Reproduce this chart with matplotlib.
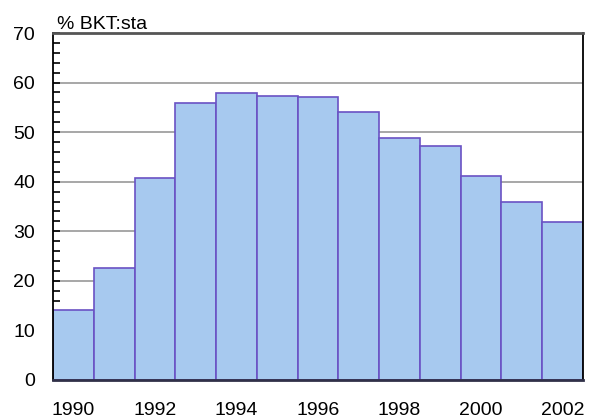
import numpy as np
import matplotlib.pyplot as plt
from matplotlib.ticker import MultipleLocator

plt.rcParams['font.family'] = ['Liberation Sans', 'DejaVu Sans']

years = ['1990', '1991', '1992', '1993', '1994', '1995', '1996',
         '1997', '1998', '1999', '2000', '2001', '2002']
values = [14.2, 22.5, 40.7, 55.9, 57.9, 57.2, 57.0,
          54.1, 48.9, 47.2, 41.1, 35.9, 31.9]
shown_labels = ['1990', '1992', '1994', '1996', '1998', '2000', '2002']

fig = plt.figure(figsize=(5.97, 4.19), dpi=100)
ax = fig.add_axes([0.0888, 0.0931, 0.8877, 0.8281])

x = np.arange(len(years))
ax.bar(x, values, width=1.0, color='#a7c9ef', edgecolor='#6a52c4',
       linewidth=1.2, zorder=2)

ax.set_xlim(-0.5, len(years) - 0.5)
ax.set_ylim(0, 70)

# grid lines at 10..60
for g in range(10, 70, 10):
    ax.axhline(g, color='#a0a0a0', linewidth=1.3, zorder=1)

ticks = [i for i, y in enumerate(years) if y in shown_labels]
ax.set_xticks(ticks)
ax.set_xticklabels([years[i] for i in ticks])
ax.tick_params(axis='x', length=0, pad=16, labelsize=14)

ax.yaxis.set_major_locator(MultipleLocator(10))
ax.yaxis.set_minor_locator(MultipleLocator(2))
ax.tick_params(axis='y', which='both', direction='in', length=5,
               width=1.2, color='black', labelsize=14, pad=13)

ax.spines['left'].set_color('black')
ax.spines['left'].set_linewidth(1.3)
ax.spines['right'].set_color('black')
ax.spines['right'].set_linewidth(1.3)
ax.spines['top'].set_color('#555555')
ax.spines['top'].set_linewidth(2)
ax.spines['bottom'].set_color('#303048')
ax.spines['bottom'].set_linewidth(2)

ax.set_title('% BKT:sta', loc='left', fontsize=14, pad=1, x=0.008)

plt.savefig('out.png', dpi=100)
